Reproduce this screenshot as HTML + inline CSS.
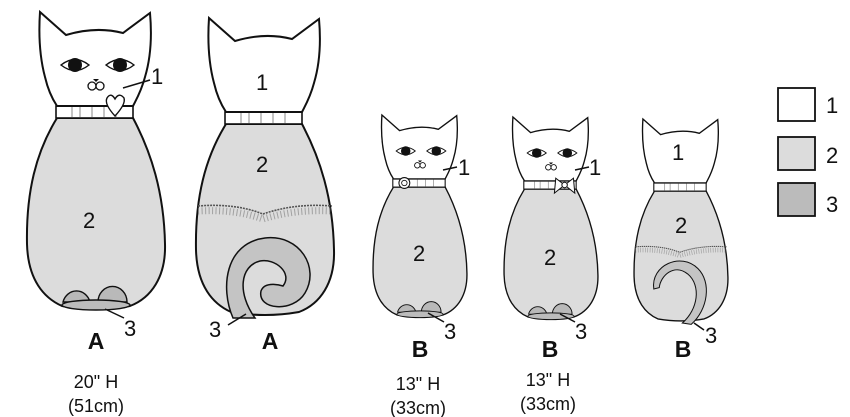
<!DOCTYPE html>
<html><head><meta charset="utf-8"><style>
html,body{margin:0;padding:0;background:#fff}
svg{display:block}
text{font-family:"Liberation Sans",sans-serif;fill:#111}
</style></head><body>
<svg width="850" height="417" viewBox="0 0 850 417" xmlns="http://www.w3.org/2000/svg">
<defs>
<g id="head">
<path d="M-56,0 L-30,23 Q0,14 27,21 L54,1 C57,35 52,55 49,65 C45,80 40,88 37,94 L-39,94 C-43,88 -48,78 -51,65 C-55,50 -58,30 -56,0 Z" fill="#fff" stroke="#111" stroke-width="2"/>
</g>
<g id="body">
<path d="M-39,106 C-60,140 -70,180 -69,232 C-68,268 -52,286 -34,294 Q0,300 34,294 C55,286 70,265 69,232 C68,180 55,140 37,106 Z" fill="#dcdcdc" stroke="#111" stroke-width="2"/>
<rect x="-40" y="94" width="77" height="12" fill="#fff" stroke="#111" stroke-width="1.6"/>
<path d="M-24,95V105M-16,95V105M-4,95V105M8,95V105M20,95V105" stroke="#888" stroke-width="1"/>
</g>
<g id="feet">
<path d="M-33,290 A14,15 0 0 1 -6,290 Z M2,290 A14,15 0 0 1 31,290 Z" fill="#b9b9b9" stroke="#111" stroke-width="1.4"/>
<ellipse cx="0" cy="293" rx="34" ry="5" fill="#bcbcbc" stroke="#111" stroke-width="1.4"/>
</g>
<g id="face">
<path d="M-35,53 Q-21,42 -7,53 Q-21,64 -35,53 Z M10,53 Q24,42 38,53 Q24,64 10,53 Z" fill="#fff" stroke="#111" stroke-width="1.4"/>
<circle cx="-21" cy="53" r="7" fill="#111"/><circle cx="24" cy="53" r="7" fill="#111"/>
<circle cx="-4" cy="74" r="4" fill="#fff" stroke="#111" stroke-width="1.3"/>
<circle cx="4" cy="74" r="4" fill="#fff" stroke="#111" stroke-width="1.3"/>
<path d="M-3,67 L3,67 L0,70 Z" fill="#111"/>
</g>
<g id="stitch">
<path d="M-67,188 Q-30,185 -2,196 Q30,185 67,188" fill="none" stroke="#555" stroke-width="1.6" stroke-dasharray="2 1"/>
<path d="M-67,193 Q-30,191 -2,201 Q30,191 67,193" fill="none" stroke="#888" stroke-width="7" stroke-dasharray="1 2.5" opacity="0.7"/>
</g>
</defs>

<g transform="translate(96,12)">
<use href="#body"/><use href="#head"/><use href="#feet"/><use href="#face"/>
<path d="M19,104 Q8,92 11,86 Q15,80 19,87 Q23,80 28,86 Q30,92 19,104 Z" fill="#fff" stroke="#111" stroke-width="1.4"/>
</g>
<g transform="translate(265,18)">
<use href="#body"/><use href="#head"/><use href="#stitch"/>
<path d="M-32,300 C-45,270 -40,225 0,220 C35,216 55,250 40,275 C28,295 -8,292 -4,273 C0,262 18,268 18,268 C28,255 10,240 -5,243 C-25,248 -28,275 -10,300 Z" fill="#c4c4c4" stroke="#111" stroke-width="1.5"/>
</g>
<g transform="translate(420,115) scale(0.68)">
<use href="#body"/><use href="#head"/><use href="#feet"/><use href="#face"/>
<circle cx="-23" cy="100" r="8" fill="#fff" stroke="#111" stroke-width="1.5"/>
<circle cx="-23" cy="100" r="4" fill="none" stroke="#111" stroke-width="1.2"/>
</g>
<g transform="translate(551,117) scale(0.68)">
<use href="#body"/><use href="#head"/><use href="#feet"/><use href="#face"/>
<path d="M20,100 L7,90 L5,112 Z M20,100 L33,90 L35,112 Z" fill="#fff" stroke="#111" stroke-width="1.5"/>
<circle cx="20" cy="100" r="4" fill="#fff" stroke="#111" stroke-width="1.5"/>
</g>
<g transform="translate(681,119) scale(0.68)">
<use href="#body"/><use href="#head"/><use href="#stitch"/>
<path d="M-40,250 C-45,215 0,195 25,220 C45,240 40,280 15,302 L2,300 C25,280 30,245 10,228 C-10,212 -30,230 -32,248 Z" fill="#c4c4c4" stroke="#111" stroke-width="1.5"/>
</g>

<rect x="778" y="88" width="37" height="33" fill="#fff" stroke="#111" stroke-width="1.8"/>
<rect x="778" y="137" width="37" height="33" fill="#dcdcdc" stroke="#111" stroke-width="1.8"/>
<rect x="778" y="183" width="37" height="33" fill="#bbb" stroke="#111" stroke-width="1.8"/>
<g font-size="22"><text x="826" y="113">1</text><text x="826" y="163">2</text><text x="826" y="212">3</text></g>

<g stroke="#111" stroke-width="1.5">
<path d="M123,88 L150,80"/><path d="M105,309 L124,318"/>
<path d="M228,325 L246,314"/>
<path d="M443,170 L457,167"/><path d="M428,313 L444,322"/>
<path d="M575,170 L589,167"/><path d="M560,314 L575,322"/>
<path d="M694,323 L704,330"/>
</g>
<g font-size="22">
<text x="151" y="84">1</text><text x="83" y="228">2</text><text x="124" y="336">3</text>
<text x="256" y="90">1</text><text x="256" y="172">2</text><text x="209" y="337">3</text>
<text x="458" y="175">1</text><text x="413" y="261">2</text><text x="444" y="339">3</text>
<text x="589" y="175">1</text><text x="544" y="265">2</text><text x="575" y="339">3</text>
<text x="672" y="160">1</text><text x="675" y="233">2</text><text x="705" y="343">3</text>
</g>
<g font-size="23" font-weight="bold" text-anchor="middle">
<text x="96" y="349">A</text><text x="270" y="349">A</text>
<text x="420" y="357">B</text><text x="550" y="357">B</text><text x="683" y="357">B</text>
</g>
<g font-size="18" text-anchor="middle">
<text x="96" y="388">20" H</text><text x="96" y="412">(51cm)</text>
<text x="418" y="390">13" H</text><text x="418" y="414">(33cm)</text>
<text x="548" y="386">13" H</text><text x="548" y="410">(33cm)</text>
</g>
</svg>
</body></html>
